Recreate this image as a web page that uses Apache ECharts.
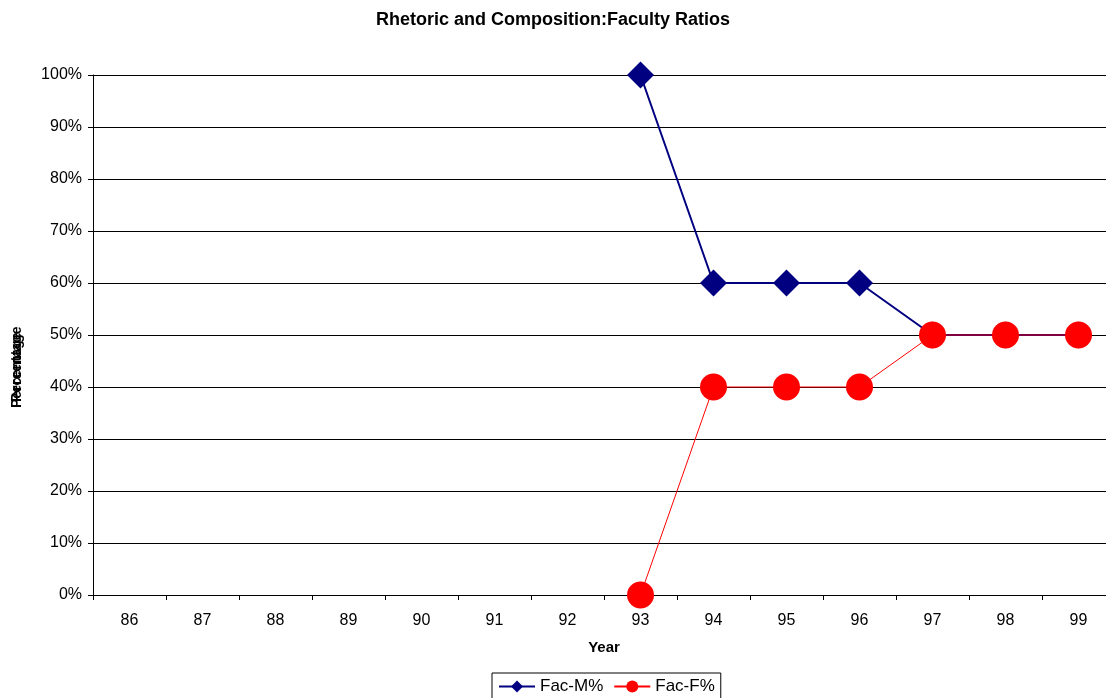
<!DOCTYPE html>
<html><head><meta charset="utf-8">
<script src="https://cdn.jsdelivr.net/npm/echarts@6/dist/echarts.min.js"></script>
<style>html,body{margin:0;padding:0;background:#fff}#c{width:1106px;height:698px}</style>
</head><body><div id="c"></div>
<script>
var years = ['86','87','88','89','90','91','92','93','94','95','96','97','98','99'];
var facM = [null,null,null,null,null,null,null,100,60,60,60,50,50,50];
var facF = [null,null,null,null,null,null,null,0,40,40,40,50,50,50];
var yTicks = [0,10,20,30,40,50,60,70,80,90,100];

var chart = echarts.init(document.getElementById('c'), null, {renderer:'canvas'});
var font = 'Liberation Sans, Arial, sans-serif';
chart.setOption({
  animation:false,
  title:{text:'Rhetoric and Composition:Faculty Ratios', left:'center', top:6,
    textStyle:{fontFamily:font, fontSize:18, fontWeight:'bold', color:'#000'}},
  grid:{left:93, width:1022, top:75, height:520, outerBoundsMode:'none', containLabel:false},
  legend:{data:['Fac-M%','Fac-F%'], left:492, top:673, itemGap:10, itemWidth:36, itemHeight:15,
    padding:[5,6,6,6], borderColor:'#000', borderWidth:1, borderRadius:0,
    textStyle:{fontFamily:font, fontSize:17, color:'#000'}},
  xAxis:{type:'category', data:years, boundaryGap:true,
    name:'Year', nameLocation:'middle', nameGap:45,
    nameTextStyle:{fontFamily:font, fontSize:15, fontWeight:'bold', color:'#000'},
    axisLine:{lineStyle:{color:'#000', width:1}},
    axisTick:{show:true, alignWithLabel:false, length:5, lineStyle:{color:'#000'}},
    axisLabel:{fontFamily:font, fontSize:16, color:'#000', margin:18}},
  yAxis:{type:'value', min:0, max:100, interval:10,
    axisLine:{show:true, lineStyle:{color:'#000'}},
    axisTick:{show:true, length:5, lineStyle:{color:'#000'}},
    axisLabel:{fontFamily:font, fontSize:16, color:'#000', margin:11, formatter:function(v){return v+'%';}},
    splitLine:{show:true, lineStyle:{color:'#000', width:1}}},
  graphic:[
    {type:'text', rotation:Math.PI/2, x:10, y:408, style:{text:'Percentage', font:'bold 14px '+font, fill:'#000'}, silent:true},
    {type:'text', rotation:Math.PI/2, x:10, y:402, style:{text:'Percentage', font:'bold 14px '+font, fill:'#000'}, silent:true}
  ],
  series:[
    {name:'Fac-M%', type:'line', data:facM, symbol:'diamond', symbolSize:27, connectNulls:false,
      itemStyle:{color:'#000080'}, lineStyle:{color:'#000080', width:2}},
    {name:'Fac-F%', type:'line', data:facF, symbol:'circle', symbolSize:27, connectNulls:false,
      itemStyle:{color:'#ff0000'}, lineStyle:{color:'#ff0000', width:1}}
  ]
});
</script></body></html>
